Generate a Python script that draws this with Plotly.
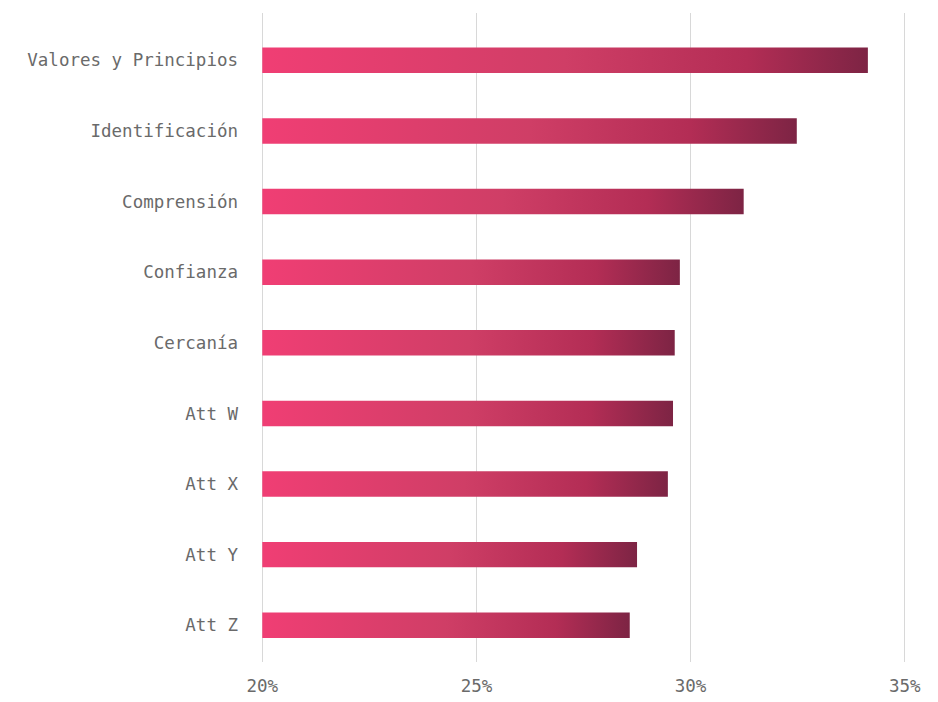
import plotly.graph_objects as go

categories = ["Valores y Principios", "Identificación", "Comprensión", "Confianza",
              "Cercanía", "Att W", "Att X", "Att Y", "Att Z"]
values = [34.14, 32.48, 31.24, 29.75, 29.63, 29.59, 29.47, 28.75, 28.58]
x_ticks = [20, 25, 30, 35]
x_tick_labels = ["20%", "25%", "30%", "35%"]

X_MIN, X_MAX = 20, 35
PAD = 0.03
HALF = 0.18
GRADIENT = [[0, "#f03e74"], [0.5, "#cf3e66"], [0.8, "#b32d55"], [1, "#7d2444"]]
FONT = dict(family="DejaVu Sans Mono", size=17.5, color="#6a6a6a")

fig = go.Figure()
for i, (cat, v) in enumerate(zip(categories, values)):
    fig.add_trace(go.Scatter(
        x=[X_MIN, v, v, X_MIN, X_MIN],
        y=[i - HALF, i - HALF, i + HALF, i + HALF, i - HALF],
        mode="lines",
        line=dict(width=0),
        fill="toself",
        fillgradient=dict(type="horizontal", colorscale=GRADIENT),
        name=cat,
        hoverinfo="text",
        text=f"{cat}: {v:.1f}%",
        showlegend=False,
    ))

# page body has an 8px default margin, so the figure is sized to fit inside it
fig.update_layout(
    width=922, height=686,
    margin=dict(l=253, r=24, t=5, b=32),
    plot_bgcolor="white", paper_bgcolor="white",
    font=FONT,
)
fig.update_xaxes(
    range=[X_MIN - PAD, X_MAX + PAD], tickvals=x_ticks, ticktext=x_tick_labels,
    showgrid=True, gridcolor="#d8d8d8", gridwidth=1, zeroline=False,
    showline=False, ticks="", ticklabelstandoff=11, tickfont=FONT,
    automargin=False, layer="below traces",
)
fig.update_yaxes(
    range=[len(categories) - 0.48, -0.67],
    tickvals=list(range(len(categories))), ticktext=categories,
    showgrid=False, zeroline=False, showline=False, ticks="",
    ticklabelstandoff=22, tickfont=FONT, automargin=False,
)
fig.write_html("out.html")
